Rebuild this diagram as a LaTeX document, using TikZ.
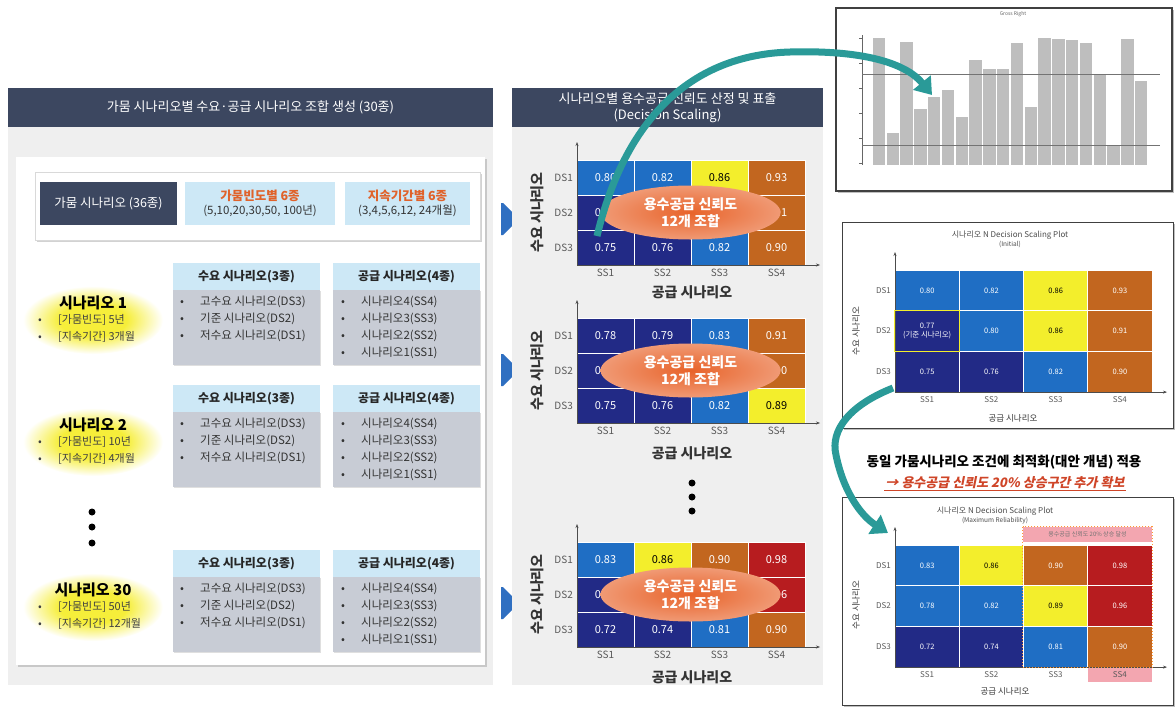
\documentclass[tikz,border=0pt]{standalone}
\usepackage{fontspec}
\setmainfont{Noto Sans CJK KR}
\newfontfamily\krslant{Noto Sans CJK KR}[FakeSlant=0.2]
\usetikzlibrary{positioning,shapes.geometric,shapes.arrows,shadows,arrows.meta}

\definecolor{headnavy}{HTML}{3C4760}
\definecolor{panelgray}{HTML}{EFEFEF}
\definecolor{boxblue}{HTML}{CDE8F6}
\definecolor{bodygray}{HTML}{C8CCD5}
\definecolor{cellnavy}{HTML}{222A86}
\definecolor{cellblue}{HTML}{1F6EC4}
\definecolor{cellyellow}{HTML}{F3EE2C}
\definecolor{cellbrown}{HTML}{C2661F}
\definecolor{cellred}{HTML}{B71C1F}
\definecolor{ellorange}{HTML}{E8632A}
\definecolor{arrowblue}{HTML}{2F6FC1}
\definecolor{tealarrow}{HTML}{2A9A98}
\definecolor{txtorange}{HTML}{E0622A}
\definecolor{txtred}{HTML}{CF4528}
\definecolor{bargray}{HTML}{BEBEBE}
\definecolor{pinkband}{HTML}{F3A6B0}
\definecolor{glowyellow}{HTML}{F6EE3A}

\newcommand{\sz}[2]{\fontsize{#1}{#2}\selectfont}

\pgfdeclareradialshading{glow}{\pgfpoint{0bp}{0bp}}{color(0bp)=(glowyellow); color(12bp)=(glowyellow); color(25bp)=(white); color(50bp)=(white)}

\tikzset{
  headbar/.style={fill=headnavy, text=white, font=\sz{13}{16}, align=center, inner sep=0pt},
  panel/.style={fill=panelgray, inner sep=0pt},
  whitebox/.style={fill=white, inner sep=0pt, drop shadow={shadow xshift=2pt, shadow yshift=-2pt, opacity=.35}},
  navybox/.style={fill=headnavy, text=white, font=\sz{12.5}{15}, inner sep=0pt},
  bluebox/.style={fill=boxblue, align=center, font=\sz{11.5}{14}, inner sep=0pt, text=black!80},
  listhead/.style={fill=boxblue, minimum width=147, minimum height=27, font=\bfseries\sz{12}{14}, inner sep=0pt, text=black!85},
  listbody/.style={fill=bodygray, minimum width=147, minimum height=75, inner sep=0pt, drop shadow={shadow xshift=1pt, shadow yshift=-1pt, opacity=.25}},
  listitem/.style={anchor=west, font=\sz{11.5}{13}, inner sep=0pt, text=black!80},
  scentitle/.style={font=\bfseries\sz{15}{17}, inner sep=0pt},
  scenitem/.style={anchor=west, font=\sz{11}{12}, inner sep=0pt, text=black!75},
  heatcell/.style={draw=white, line width=0.8pt, inner sep=0pt, align=center, font=\sz{11}{13}},
  axisline/.style={draw=black!70, line width=0.6pt, -{Stealth[length=4pt,width=3pt]}},
  ticklab/.style={font=\sz{10}{12}, text=black!65, inner sep=0pt},
  axtitle/.style={font=\bfseries\sz{14}{16}, inner sep=0pt, text=black!80},
  bigellipse/.style={ellipse, minimum width=180, minimum height=54, inner sep=0pt, shading=radial, inner color=ellorange, outer color=ellorange!65!white, text=white, font=\bfseries\sz{14}{17}, align=center},
  bluearrow/.style={single arrow, single arrow head extend=0pt, fill=arrowblue, minimum height=18, minimum width=32, inner sep=0pt},
  chartbox/.style={draw=black!75, fill=white, inner sep=0pt, drop shadow={shadow xshift=2pt, shadow yshift=-2pt, opacity=.5}},
  charttitle/.style={font=\sz{8}{9}, text=black!70, align=center, inner sep=0pt},
  tealarr/.style={draw=tealarrow, line width=7pt, -{Triangle[length=16pt, width=22pt]}},
  dot/.style={circle, fill=black, minimum size=7, inner sep=0pt}
}

% scenario block: name, top y, title, frequency, duration
\newcommand{\scenario}[5]{%
  \shade[shading=glow] (93,#2+57) ellipse (70pt and 34pt);
  \node[scentitle] (#1-t) at (93,#2+40) {#3};
  \node[scenitem] (#1-f) at (38,#2+57) {\makebox[20pt][l]{•}#4};
  \node[scenitem] (#1-d) at (38,#2+74) {\makebox[20pt][l]{•}#5};
  \node[listhead] (#1-dh) at (246.5,#2+13.5) {수요 시나리오(3종)};
  \node[listbody, below=0pt of #1-dh] (#1-db) {};
  \node[listhead] (#1-sh) at (406.5,#2+13.5) {공급 시나리오(4종)};
  \node[listbody, below=0pt of #1-sh] (#1-sb) {};
  \foreach \itm [count=\i] in {고수요 시나리오(DS3),기준 시나리오(DS2),저수요 시나리오(DS1)}
    \node[listitem] (#1-dd\i) at (180,{#2+22+17*\i}) {\makebox[20pt][l]{•}\itm};
  \foreach \itm [count=\i] in {시나리오4(SS4),시나리오3(SS3),시나리오2(SS2),시나리오1(SS1)}
    \node[listitem] (#1-ss\i) at (341,{#2+22+17*\i}) {\makebox[20pt][l]{•}\itm};
}

% decision scaling plot: name, left x, top y, cell width, cell height, cells
\newcommand{\dsplot}[6]{%
  \foreach \c/\r/\f/\tc/\v in {#6}
    \node[heatcell, fill=\f, text=\tc, minimum width=#4, minimum height=#5]
      (#1-\r-\c) at ({#2+(\c-0.5)*#4},{#3+(\r-0.5)*#5}) {\v};
  \coordinate (#1-o) at (#2,{#3+3*#5});
  \draw[axisline] (#1-o) -- ++(0,{-3*#5-18});
  \draw[axisline] (#1-o) -- ++({4*#4+15},0);
  \foreach \r in {1,2,3}
    \node[ticklab, anchor=east] (#1-ds\r) at ({#2-4},{#3+(\r-0.5)*#5}) {DS\r};
  \foreach \c in {1,...,4}
    \node[ticklab, anchor=north] (#1-ss\c) at ({#2+(\c-0.5)*#4},{#3+3*#5+4}) {SS\c};
}

\begin{document}
\begin{tikzpicture}[x=1pt,y=-1pt]
\useasboundingbox (0,0) rectangle (1175,707);
\fill[white] (0,0) rectangle (1175,707);

% left panel
\node[panel, minimum width=485, minimum height=558] (lpanel) at (250.5,406) {};
\node[headbar, minimum width=485, minimum height=39] (lhead) at (250.5,107.5) {가뭄 시나리오별 수요·공급 시나리오 조합 생성 (30종)};
\node[whitebox, minimum width=469, minimum height=508] (lbox) at (250.5,411) {};
\node[whitebox, draw=black!15, minimum width=445, minimum height=68] (toprow) at (257.5,206) {};
\node[navybox, minimum width=137, minimum height=43] (drought) at (108.5,203.5) {가뭄 시나리오 (36종)};
\node[bluebox, minimum width=150, minimum height=43] (freq) at (260,203.5) {{\bfseries\color{txtorange}\sz{12.5}{15}가뭄빈도별 6종}\\(5,10,20,30,50, 100년)};
\node[bluebox, minimum width=125, minimum height=43] (dur) at (407.5,203.5) {{\bfseries\color{txtorange}\sz{12.5}{15}지속기간별 6종}\\(3,4,5,6,12, 24개월)};

\scenario{s1}{263}{시나리오 1}{[가뭄빈도] 5년}{[지속기간] 3개월}
\scenario{s2}{385}{시나리오 2}{[가뭄빈도] 10년}{[지속기간] 4개월}
\scenario{s30}{550}{시나리오 30}{[가뭄빈도] 50년}{[지속기간] 12개월}
\foreach \yy [count=\i] in {512,527,543}
  \node[dot] (ldot\i) at (92,\yy) {};

% arrows into the scaling panel
\node[bluearrow] (barr1) at (502,219) {};
\node[bluearrow] (barr2) at (502,370) {};
\node[bluearrow] (barr3) at (502,603) {};

% middle panel
\node[panel, minimum width=311, minimum height=558] (mpanel) at (667.5,406) {};
\node[headbar, minimum width=311, minimum height=39] (mhead) at (667.5,107.5) {시나리오별 용수공급 신뢰도 산정 및 표출\\(Decision Scaling)};

\dsplot{g1}{577}{160}{57}{35}{1/1/cellblue/white/0.80, 2/1/cellblue/white/0.82, 3/1/cellyellow/black/0.86, 4/1/cellbrown/white/0.93,
  1/2/cellnavy/white/0.77, 2/2/cellblue/white/{}, 3/2/cellyellow/black/{}, 4/2/cellbrown/white/0.91,
  1/3/cellnavy/white/0.75, 2/3/cellnavy/white/0.76, 3/3/cellblue/white/0.82, 4/3/cellbrown/white/0.90}
\node[bigellipse] (e1) at (690.5,212.5) {용수공급 신뢰도\\12개 조합};
\node[axtitle] (g1-xt) at (692,292) {공급 시나리오};
\node[axtitle, rotate=90] (g1-yt) at (537,212.5) {수요 시나리오};

\dsplot{g2}{577}{318}{57}{35}{1/1/cellnavy/white/0.78, 2/1/cellnavy/white/0.79, 3/1/cellblue/white/0.83, 4/1/cellbrown/white/0.91,
  1/2/cellnavy/white/0.77, 2/2/cellnavy/white/{}, 3/2/cellblue/white/{}, 4/2/cellbrown/white/0.90,
  1/3/cellnavy/white/0.75, 2/3/cellnavy/white/0.76, 3/3/cellblue/white/0.82, 4/3/cellyellow/black/0.89}
\node[bigellipse] (e2) at (690.5,370.5) {용수공급 신뢰도\\12개 조합};
\node[axtitle] (g2-xt) at (692,453) {공급 시나리오};
\node[axtitle, rotate=90] (g2-yt) at (537,370.5) {수요 시나리오};

\foreach \yy [count=\i] in {483,497,511}
  \node[dot] (mdot\i) at (692,\yy) {};

\dsplot{g3}{577}{542}{57}{35}{1/1/cellblue/white/0.83, 2/1/cellyellow/black/0.86, 3/1/cellbrown/white/0.90, 4/1/cellred/white/0.98,
  1/2/cellnavy/white/0.78, 2/2/cellblue/white/{}, 3/2/cellyellow/black/{}, 4/2/cellred/white/0.96,
  1/3/cellnavy/white/0.72, 2/3/cellnavy/white/0.74, 3/3/cellblue/white/0.81, 4/3/cellbrown/white/0.90}
\node[bigellipse] (e3) at (690.5,594.5) {용수공급 신뢰도\\12개 조합};
\node[axtitle] (g3-xt) at (692,677) {공급 시나리오};
\node[axtitle, rotate=90] (g3-yt) at (537,594.5) {수요 시나리오};

% bar chart
\node[chartbox, line width=1.5pt, minimum width=336, minimum height=183] (bars) at (1004,99.5) {};
\node[font=\sz{5}{6}, text=black!60, inner sep=0pt] (bartitle) at (1013,14) {Gross Right};
\draw[black!60, line width=0.5pt] (862,35) -- (862,165);
\foreach \yy in {38,63,88,113,138,163}
  \draw[black!60, line width=0.5pt] (859,\yy) -- (862,\yy);
\foreach \h [count=\i from 0] in {38,133,42,109,97,90,117,60,69,69,43,107,38,39,40,43,74,145,39,81}
  \fill[bargray] ({872.7+13.8*\i},\h) rectangle ++(12.4,{165-\h});
\draw[black!55, line width=0.6pt] (862,74) -- (1160,74);
\draw[black!55, line width=0.6pt] (862,145) -- (1160,145);

% initial plot
\node[chartbox, line width=0.8pt, minimum width=331, minimum height=206] (initbox) at (1007.5,325) {};
\node[charttitle] (inittitle) at (1010,239) {시나리오 N Decision Scaling Plot\\{\sz{6.5}{7}(Initial)}};
\begin{scope}[heatcell/.append style={font=\sz{7.5}{8.5}}, ticklab/.append style={font=\sz{8}{10}}]
\dsplot{i}{895}{270}{64.25}{40.7}{1/1/cellblue/white/0.80, 2/1/cellblue/white/0.82, 3/1/cellyellow/black/0.86, 4/1/cellbrown/white/0.93,
  1/2/cellnavy/white/{0.77\\(기준 시나리오)}, 2/2/cellblue/white/0.80, 3/2/cellyellow/black/0.86, 4/2/cellbrown/white/0.91,
  1/3/cellnavy/white/0.75, 2/3/cellnavy/white/0.76, 3/3/cellblue/white/0.82, 4/3/cellbrown/white/0.90}
\end{scope}
\draw[cellyellow, line width=1.2pt] (i-2-1.north west) rectangle (i-2-1.south east);
\node[axtitle, font=\sz{8.5}{10}] (i-xt) at (1013,418) {공급 시나리오};
\node[axtitle, font=\sz{8.5}{10}, rotate=90] (i-yt) at (856,331) {수요 시나리오};

% heading of the optimised case
\node[font=\bfseries\sz{13.5}{16}, inner sep=0pt] (opttitle) at (1004,462) {동일 가뭄시나리오 조건에 최적화(대안 개념) 적용};
\node[font=\krslant\bfseries\sz{13}{15}, text=txtred, inner sep=1pt] (optsub) at (1005,483) {→ 용수공급 신뢰도 20\% 상승구간 추가 확보};
\draw[txtred, line width=0.8pt] (optsub.south west) -- (optsub.south east);

% maximum reliability plot
\node[chartbox, line width=0.8pt, minimum width=331, minimum height=208] (maxbox) at (1007.5,601) {};
\node[charttitle] (maxtitle) at (995,515) {시나리오 N Decision Scaling Plot\\{\sz{6.5}{7}(Maximum Reliability)}};
\node[fill=pinkband, minimum width=129, minimum height=15, inner sep=0pt, font=\sz{6}{7}, text=black!55] (band) at (1087.5,534.5) {용수공급 신뢰도 20\% 상승 달성};
\node[fill=pinkband, minimum width=64, minimum height=14, inner sep=0pt] (ss4hl) at (1120,675) {};
\begin{scope}[heatcell/.append style={font=\sz{7.5}{8.5}}, ticklab/.append style={font=\sz{8}{10}}]
\dsplot{m}{895}{545}{64.25}{40.7}{1/1/cellblue/white/0.83, 2/1/cellyellow/black/0.86, 3/1/cellbrown/white/0.90, 4/1/cellred/white/0.98,
  1/2/cellblue/white/0.78, 2/2/cellblue/white/0.82, 3/2/cellyellow/black/0.89, 4/2/cellred/white/0.96,
  1/3/cellnavy/white/0.72, 2/3/cellnavy/white/0.74, 3/3/cellblue/white/0.81, 4/3/cellbrown/white/0.90}
\end{scope}
\draw[orange!80, dotted, line width=1pt] (band.north west) rectangle (m-3-4.south east);
\node[axtitle, font=\sz{8.5}{10}] (m-xt) at (1005,691) {공급 시나리오};
\node[axtitle, font=\sz{8.5}{10}, rotate=90] (m-yt) at (856,605) {수요 시나리오};

% teal arrows
\coordinate (t1s) at (597,236);
\coordinate (t1e) at (932,95);
\draw[tealarr] (t1s) .. controls (625,120) and (690,55) .. (790,52) .. controls (860,50) and (905,62) .. (t1e);
\coordinate (t2s) at (893,388);
\coordinate (t2e) at (888,533);
\draw[tealarr] (t2s) .. controls (850,405) and (830,430) .. (836,455) .. controls (843,490) and (860,515) .. (t2e);

\end{tikzpicture}
\end{document}
